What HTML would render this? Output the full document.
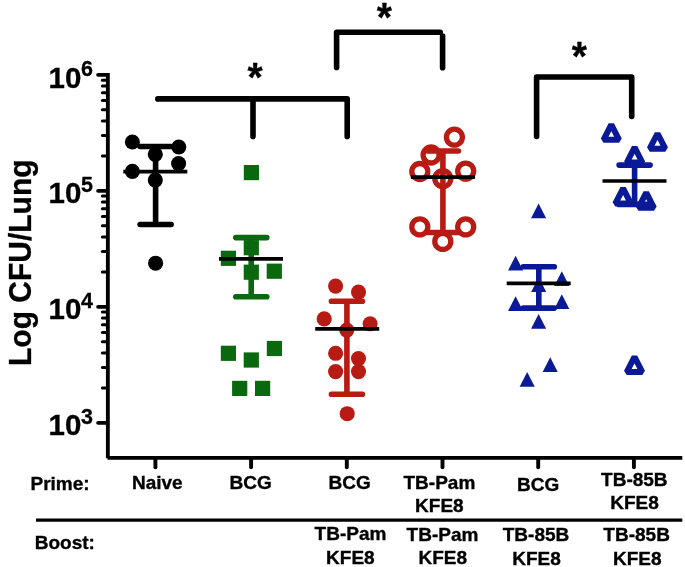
<!DOCTYPE html>
<html lang="en"><head><meta charset="utf-8"><title>Log CFU/Lung</title>
<style>html,body{margin:0;padding:0;background:#fff}body{width:685px;height:567px;overflow:hidden}</style>
</head><body>
<svg width="685" height="567" viewBox="0 0 685 567" style="display:block">
<rect width="685" height="567" fill="#fff"/>
<defs><filter id="soft" x="0" y="0" width="100%" height="100%" filterUnits="userSpaceOnUse" color-interpolation-filters="sRGB"><feGaussianBlur stdDeviation="0.65"/></filter></defs>
<g filter="url(#soft)">
<rect width="685" height="567" fill="#fff"/>
<g font-family='"Liberation Sans", Arial, Helvetica, sans-serif' font-weight="bold" fill="#000" stroke="#000" stroke-width="0.3">
<text transform="translate(30.60,262.70) rotate(-90) scale(1.0,1.015)" font-size="30" text-anchor="middle">Log CFU/Lung</text>
<text transform="translate(48.50,87.50) scale(1.0,1.02)" font-size="29.5" text-anchor="start">10</text>
<text transform="translate(80.90,76.25) scale(1.0,1.035)" font-size="21.5" text-anchor="start">6</text>
<text transform="translate(48.50,203.48) scale(1.0,1.02)" font-size="29.5" text-anchor="start">10</text>
<text transform="translate(80.90,192.23) scale(1.0,1.035)" font-size="21.5" text-anchor="start">5</text>
<text transform="translate(48.50,319.46) scale(1.0,1.02)" font-size="29.5" text-anchor="start">10</text>
<text transform="translate(80.90,308.21) scale(1.0,1.035)" font-size="21.5" text-anchor="start">4</text>
<text transform="translate(48.50,435.44) scale(1.0,1.02)" font-size="29.5" text-anchor="start">10</text>
<text transform="translate(80.90,424.19) scale(1.0,1.035)" font-size="21.5" text-anchor="start">3</text>
</g>
<g stroke="#000" fill="none">
<path d="M107.85 72.94999999999999 V458.2 M107.55 457.9 H682.3" stroke-width="3.85"/>
<path d="M98.1 74.8 H106.35" stroke-width="3.8" stroke-linecap="round"/>
<path d="M98.1 190.8 H106.35" stroke-width="3.8" stroke-linecap="round"/>
<path d="M98.1 306.8 H106.35" stroke-width="3.8" stroke-linecap="round"/>
<path d="M98.1 422.8 H106.35" stroke-width="3.8" stroke-linecap="round"/>
<path d="M102.4 155.9 H106.35" stroke-width="3" stroke-linecap="round"/>
<path d="M102.4 135.5 H106.35" stroke-width="3" stroke-linecap="round"/>
<path d="M102.4 121.0 H106.35" stroke-width="3" stroke-linecap="round"/>
<path d="M102.4 109.8 H106.35" stroke-width="3" stroke-linecap="round"/>
<path d="M102.4 100.6 H106.35" stroke-width="3" stroke-linecap="round"/>
<path d="M102.4 92.8 H106.35" stroke-width="3" stroke-linecap="round"/>
<path d="M102.4 86.1 H106.35" stroke-width="3" stroke-linecap="round"/>
<path d="M102.4 80.2 H106.35" stroke-width="3" stroke-linecap="round"/>
<path d="M102.4 271.9 H106.35" stroke-width="3" stroke-linecap="round"/>
<path d="M102.4 251.5 H106.35" stroke-width="3" stroke-linecap="round"/>
<path d="M102.4 237.0 H106.35" stroke-width="3" stroke-linecap="round"/>
<path d="M102.4 225.7 H106.35" stroke-width="3" stroke-linecap="round"/>
<path d="M102.4 216.6 H106.35" stroke-width="3" stroke-linecap="round"/>
<path d="M102.4 208.8 H106.35" stroke-width="3" stroke-linecap="round"/>
<path d="M102.4 202.1 H106.35" stroke-width="3" stroke-linecap="round"/>
<path d="M102.4 196.1 H106.35" stroke-width="3" stroke-linecap="round"/>
<path d="M102.4 387.9 H106.35" stroke-width="3" stroke-linecap="round"/>
<path d="M102.4 367.5 H106.35" stroke-width="3" stroke-linecap="round"/>
<path d="M102.4 353.0 H106.35" stroke-width="3" stroke-linecap="round"/>
<path d="M102.4 341.7 H106.35" stroke-width="3" stroke-linecap="round"/>
<path d="M102.4 332.5 H106.35" stroke-width="3" stroke-linecap="round"/>
<path d="M102.4 324.8 H106.35" stroke-width="3" stroke-linecap="round"/>
<path d="M102.4 318.0 H106.35" stroke-width="3" stroke-linecap="round"/>
<path d="M102.4 312.1 H106.35" stroke-width="3" stroke-linecap="round"/>
<path d="M155.4 457.9 V467.2" stroke-width="3.9" stroke-linecap="round"/>
<path d="M251.1 457.9 V467.2" stroke-width="3.9" stroke-linecap="round"/>
<path d="M346.8 457.9 V467.2" stroke-width="3.9" stroke-linecap="round"/>
<path d="M442.5 457.9 V467.2" stroke-width="3.9" stroke-linecap="round"/>
<path d="M538.2 457.9 V467.2" stroke-width="3.9" stroke-linecap="round"/>
<path d="M633.9 457.9 V467.2" stroke-width="3.9" stroke-linecap="round"/>
<path d="M36 520.15 H682.3" stroke-width="3.1"/>
</g>
<g font-family='"Liberation Sans", Arial, Helvetica, sans-serif' font-weight="bold" fill="#000" stroke="#000" stroke-width="0.35">
<text transform="translate(30.50,489.70)" font-size="19" text-anchor="start">Prime:</text>
<text transform="translate(34.70,549.30)" font-size="19" text-anchor="start">Boost:</text>
<text transform="translate(157.30,488.70)" font-size="19" text-anchor="middle">Naive</text>
<text transform="translate(250.70,489.20)" font-size="19" text-anchor="middle">BCG</text>
<text transform="translate(349.70,489.20)" font-size="19" text-anchor="middle">BCG</text>
<text transform="translate(439.40,489.00)" font-size="19" text-anchor="middle">TB-Pam</text>
<text transform="translate(439.40,511.80)" font-size="19" text-anchor="middle">KFE8</text>
<text transform="translate(538.20,490.60)" font-size="19" text-anchor="middle">BCG</text>
<text transform="translate(634.30,485.90)" font-size="19" text-anchor="middle">TB-85B</text>
<text transform="translate(634.50,509.10)" font-size="19" text-anchor="middle">KFE8</text>
<text transform="translate(350.50,540.30)" font-size="19" text-anchor="middle">TB-Pam</text>
<text transform="translate(350.40,563.60)" font-size="19" text-anchor="middle">KFE8</text>
<text transform="translate(442.50,541.00)" font-size="19" text-anchor="middle">TB-Pam</text>
<text transform="translate(442.70,564.30)" font-size="19" text-anchor="middle">KFE8</text>
<text transform="translate(536.00,540.80)" font-size="19" text-anchor="middle">TB-85B</text>
<text transform="translate(536.50,564.60)" font-size="19" text-anchor="middle">KFE8</text>
<text transform="translate(636.60,540.80)" font-size="19" text-anchor="middle">TB-85B</text>
<text transform="translate(637.30,564.60)" font-size="19" text-anchor="middle">KFE8</text>
</g>
<circle cx="132.4" cy="142.0" r="7.55" fill="#000"/>
<circle cx="178.8" cy="147.0" r="7.55" fill="#000"/>
<circle cx="155.3" cy="154.3" r="7.55" fill="#000"/>
<circle cx="178.6" cy="163.6" r="7.55" fill="#000"/>
<circle cx="132.4" cy="171.4" r="7.55" fill="#000"/>
<circle cx="155.3" cy="180.05" r="7.55" fill="#000"/>
<circle cx="155.6" cy="263.2" r="7.55" fill="#000"/>
<g stroke="#000" stroke-width="5.6" stroke-linecap="round" fill="none">
<path d="M140.1 146.5 H171.1 M140.1 224.5 H171.1"/>
<path d="M155.6 146.5 V224.5" stroke-linecap="butt"/>
</g>
<path d="M123.3 171.6 H187.3" stroke="#000" stroke-width="3.7" fill="none"/>
<rect x="243.80" y="165.00" width="15.2" height="15.2" fill="#0a680e"/>
<rect x="243.70" y="240.10" width="15.2" height="15.2" fill="#0a680e"/>
<rect x="220.80" y="250.70" width="15.2" height="15.2" fill="#0a680e"/>
<rect x="243.70" y="264.60" width="15.2" height="15.2" fill="#0a680e"/>
<rect x="266.70" y="263.60" width="15.2" height="15.2" fill="#0a680e"/>
<rect x="220.80" y="345.70" width="15.2" height="15.2" fill="#0a680e"/>
<rect x="243.70" y="352.40" width="15.2" height="15.2" fill="#0a680e"/>
<rect x="266.80" y="340.90" width="15.2" height="15.2" fill="#0a680e"/>
<rect x="232.10" y="380.80" width="15.2" height="15.2" fill="#0a680e"/>
<rect x="255.00" y="380.80" width="15.2" height="15.2" fill="#0a680e"/>
<g stroke="#0a680e" stroke-width="5.6" stroke-linecap="round" fill="none">
<path d="M235.8 237.6 H266.8 M235.8 296.8 H266.8"/>
<path d="M251.2 237.6 V296.8" stroke-linecap="butt"/>
</g>
<path d="M219.0 258.8 H283.0" stroke="#000" stroke-width="3.7" fill="none"/>
<circle cx="335.6" cy="286.10" r="7.55" fill="#b81a14"/>
<circle cx="358.5" cy="292.05" r="7.55" fill="#b81a14"/>
<circle cx="324.2" cy="318.90" r="7.55" fill="#b81a14"/>
<circle cx="370.1" cy="323.80" r="7.55" fill="#b81a14"/>
<circle cx="346.8" cy="330.10" r="7.55" fill="#b81a14"/>
<circle cx="335.6" cy="353.30" r="7.55" fill="#b81a14"/>
<circle cx="358.5" cy="358.60" r="7.55" fill="#b81a14"/>
<circle cx="335.6" cy="371.60" r="7.55" fill="#b81a14"/>
<circle cx="358.5" cy="371.60" r="7.55" fill="#b81a14"/>
<circle cx="347.2" cy="413.70" r="7.55" fill="#b81a14"/>
<g stroke="#b81a14" stroke-width="5.6" stroke-linecap="round" fill="none">
<path d="M331.4 301.3 H362.4 M331.4 394.3 H362.4"/>
<path d="M346.9 301.3 V394.3" stroke-linecap="butt"/>
</g>
<path d="M315.2 328.9 H379.2" stroke="#000" stroke-width="3.7" fill="none"/>
<circle cx="454.4" cy="137.2" r="8" fill="none" stroke="#b81a14" stroke-width="5.3"/>
<circle cx="431.1" cy="155.0" r="8" fill="none" stroke="#b81a14" stroke-width="5.3"/>
<circle cx="419.8" cy="171.5" r="8" fill="none" stroke="#b81a14" stroke-width="5.3"/>
<circle cx="465.7" cy="171.1" r="8" fill="none" stroke="#b81a14" stroke-width="5.3"/>
<circle cx="442.8" cy="178.6" r="8" fill="none" stroke="#b81a14" stroke-width="5.3"/>
<circle cx="419.8" cy="226.9" r="8" fill="none" stroke="#b81a14" stroke-width="5.3"/>
<circle cx="465.7" cy="226.9" r="8" fill="none" stroke="#b81a14" stroke-width="5.3"/>
<circle cx="442.8" cy="241.4" r="8" fill="none" stroke="#b81a14" stroke-width="5.3"/>
<g stroke="#b81a14" stroke-width="5.6" stroke-linecap="round" fill="none">
<path d="M427.4 151.0 H458.4 M427.4 232.5 H458.4"/>
<path d="M442.9 151.0 V232.5" stroke-linecap="butt"/>
</g>
<path d="M410.9 177.1 H474.9" stroke="#000" stroke-width="3.7" fill="none"/>
<path d="M538.6 203.5 L546.15 218.3 H531.05 Z" fill="#0a1a96"/>
<path d="M515.6 255.8 L523.15 270.6 H508.05 Z" fill="#0a1a96"/>
<path d="M561.8 271.3 L569.35 286.1 H554.25 Z" fill="#0a1a96"/>
<path d="M538.7 277.2 L546.25 292.0 H531.15 Z" fill="#0a1a96"/>
<path d="M515.6 296.2 L523.15 311.0 H508.05 Z" fill="#0a1a96"/>
<path d="M561.8 294.2 L569.35 309.0 H554.25 Z" fill="#0a1a96"/>
<path d="M538.6 313.9 L546.15 328.7 H531.05 Z" fill="#0a1a96"/>
<path d="M550.2 357.3 L557.75 372.1 H542.65 Z" fill="#0a1a96"/>
<path d="M527.2 372.0 L534.75 386.8 H519.65 Z" fill="#0a1a96"/>
<g stroke="#0a1a96" stroke-width="5.6" stroke-linecap="round" fill="none">
<path d="M523.3 266.8 H554.3 M523.3 308.1 H554.3"/>
<path d="M538.8 266.8 V308.1" stroke-linecap="butt"/>
</g>
<path d="M506.7 283.4 H570.7" stroke="#000" stroke-width="3.7" fill="none"/>
<path d="M611.3 124.6 L619.10 139.8 H603.50 Z" fill="none" stroke="#0a1a96" stroke-width="6" stroke-linejoin="bevel"/>
<path d="M657.5 133.5 L665.30 148.7 H649.70 Z" fill="none" stroke="#0a1a96" stroke-width="6" stroke-linejoin="bevel"/>
<path d="M634.6 147.3 L642.40 162.5 H626.80 Z" fill="none" stroke="#0a1a96" stroke-width="6" stroke-linejoin="bevel"/>
<path d="M623.1 188.4 L630.90 203.6 H615.30 Z" fill="none" stroke="#0a1a96" stroke-width="6" stroke-linejoin="bevel"/>
<path d="M646.2 192.6 L654.00 207.8 H638.40 Z" fill="none" stroke="#0a1a96" stroke-width="6" stroke-linejoin="bevel"/>
<path d="M634.5 356.8 L642.30 372.0 H626.70 Z" fill="none" stroke="#0a1a96" stroke-width="6" stroke-linejoin="bevel"/>
<g stroke="#0a1a96" stroke-width="5.6" stroke-linecap="round" fill="none">
<path d="M619.1 165.1 H650.1 M619.1 204.4 H650.1"/>
<path d="M634.6 165.1 V204.4" stroke-linecap="butt"/>
</g>
<path d="M602.5 181.0 H666.5" stroke="#000" stroke-width="3.7" fill="none"/>
<g stroke="#000" stroke-width="5.6" fill="none" stroke-linecap="round" stroke-linejoin="round">
<path d="M157.8 98.9 H347.2 V136.4 M253 98.9 V136.4"/>
<path d="M336.6 67.4 V32.3 H440.2 M442.6 36 V67.8"/>
<path d="M536.6 136.5 V77 H631.7 V116.5"/>
</g>
<g font-family='"Liberation Sans", Arial, Helvetica, sans-serif' font-weight="bold" fill="#000" stroke="#000" stroke-width="0.3">
<text transform="translate(255.10,91.30) scale(1.0,1.04)" font-size="39" text-anchor="middle">*</text>
<text transform="translate(384.30,31.00) scale(1.0,1.04)" font-size="39" text-anchor="middle">*</text>
<text transform="translate(579.30,69.90) scale(1.0,1.04)" font-size="39" text-anchor="middle">*</text>
</g>
</g>
</svg>
</body></html>
